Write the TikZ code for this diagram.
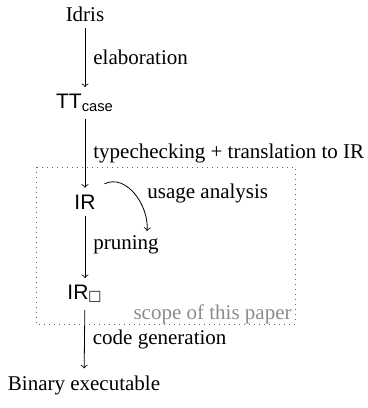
\documentclass[tikz,border=0pt]{standalone}
\usepackage{fontspec}
\setmainfont{Liberation Serif}
\setsansfont{Liberation Sans}
\usepackage{amssymb}
\begin{document}
\begin{tikzpicture}[x=0.5pt,y=-0.5pt,
  every node/.style={font=\fontsize{10.5}{12.6}\selectfont},
  stage/.style={font=\fontsize{10.5}{12.6}\selectfont\sffamily, inner sep=3.3pt},
  plain/.style={inner sep=3.3pt},
  flow/.style={->, >=to, line width=0.4pt},
  lbl/.style={anchor=west, inner sep=0pt},
  scopebox/.style={dotted, draw=black!60, line width=0.5pt}]
\useasboundingbox (0,0) rectangle (368,408);
\node[plain] (idris) at (85,14) {Idris};
\node[stage] (tt) at (85,103) {TT\textsubscript{case}};
\node[stage] (ir) at (85,202) {IR};
\node[stage] (irb) at (85,294) {IR$_\square$};
\node[plain] (bin) at (84,385) {Binary executable};
\coordinate (ua) at (147,231);
\draw[flow] (idris) -- node[lbl, xshift=4pt] {elaboration} (tt);
\draw[flow] (tt) -- node[lbl, xshift=4pt] {typechecking + translation to IR} (ir);
\draw[flow] (ir) -- node[lbl, xshift=4pt, yshift=1pt] {pruning} (irb);
\draw[flow] (irb) -- node[lbl, xshift=4pt] {code generation} (bin);
\draw[flow] ([xshift=1pt,yshift=2pt]ir.north east) to[out=25,in=85] (ua);
\node[lbl] (ualbl) at (147,193) {usage analysis};
\draw[scopebox] (36,167) rectangle (295,324);
\node[anchor=base east, inner sep=0pt, text=black!45] (scope) at (292,319) {scope of this paper};
\end{tikzpicture}
\end{document}
